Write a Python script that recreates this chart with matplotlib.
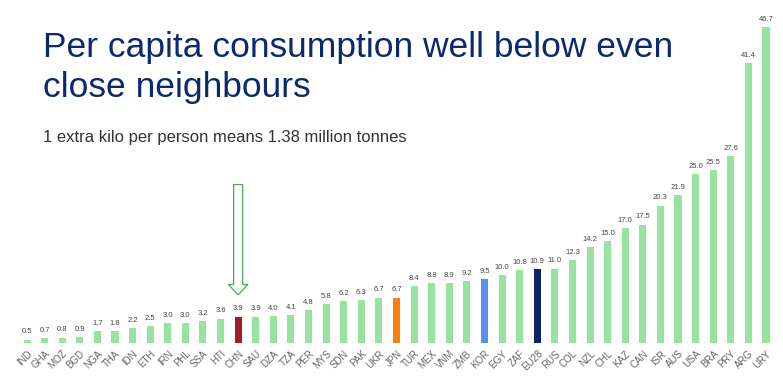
import numpy as np
import matplotlib
matplotlib.use("Agg")
import matplotlib.pyplot as plt

countries = ["IND", "GHA", "MOZ", "BGD", "NGA", "THA", "IDN", "ETH", "IRN", "PHL",
             "SSA", "HTI", "CHN", "SAU", "DZA", "TZA", "PER", "MYS", "SDN", "PAK",
             "UKR", "JPN", "TUR", "MEX", "VNM", "ZMB", "KOR", "EGY", "ZAF", "EU28",
             "RUS", "COL", "NZL", "CHL", "KAZ", "CAN", "ISR", "AUS", "USA", "BRA",
             "PRY", "ARG", "URY"]
values = [0.5, 0.7, 0.8, 0.9, 1.7, 1.8, 2.2, 2.5, 3.0, 3.0,
          3.2, 3.6, 3.9, 3.9, 4.0, 4.1, 4.8, 5.8, 6.2, 6.3,
          6.7, 6.7, 8.4, 8.8, 8.9, 9.2, 9.5, 10.0, 10.8, 10.9,
          11.0, 12.3, 14.2, 15.0, 17.0, 17.5, 20.3, 21.9, 25.0, 25.5,
          27.6, 41.4, 46.7]
highlight = {"CHN": "#a11d2b", "JPN": "#f77f0e", "KOR": "#5b8ef0", "EU28": "#0b2565"}

title_lines = ["Per capita consumption well below even", "close neighbours"]
subtitle = "1 extra kilo per person means 1.38 million tonnes"

plt.rcParams['font.family'] = ['Liberation Sans', 'DejaVu Sans']

fig = plt.figure(figsize=(7.83, 3.87), dpi=100)
ax = fig.add_axes([0.0233, 0.1137, 0.9662, 0.8398])

x = np.arange(len(countries))
colors = [highlight.get(c, "#98e3a0") for c in countries]
ax.bar(x, values, width=0.4, color=colors, zorder=2)

for xi, v in zip(x, values):
    ax.annotate(f"{v:.1f}", (xi, v), xytext=(0, 3), textcoords="offset points",
                ha="center", va="bottom", fontsize=5.5, color="#444444")

ax.axhline(0, color="#dddddd", lw=1, zorder=1)
ax.set_xlim(-0.5, len(countries) - 0.5)
ax.set_ylim(0, 48)
ax.set_xticks(x)
ax.set_xticklabels(countries, rotation=45, ha="right", rotation_mode="anchor",
                   fontsize=7, color="#666666")
ax.tick_params(axis="x", length=0, pad=4)
ax.set_yticks([])
for s in ax.spines.values():
    s.set_visible(False)

# hollow arrow pointing at China
chn = countries.index("CHN")
ax.annotate("", xy=(chn, 7.1), xytext=(chn, 23.4),
            arrowprops=dict(arrowstyle="simple,head_width=1.4,head_length=0.75,tail_width=0.65",
                            fc="white", ec="#4fa65c", lw=0.9, mutation_scale=10,
                            shrinkA=0, shrinkB=0))

# title, two lines, baselines
for line, base in zip(title_lines, [57, 97]):
    fig.text(0.055, 1 - base / 387, line, fontsize=25.5, color="#0b2a6e",
             va="baseline", ha="left")
fig.text(0.055, 1 - 142 / 387, subtitle, fontsize=12, color="#333333",
         va="baseline", ha="left")

fig.savefig("out.png", dpi=100)
